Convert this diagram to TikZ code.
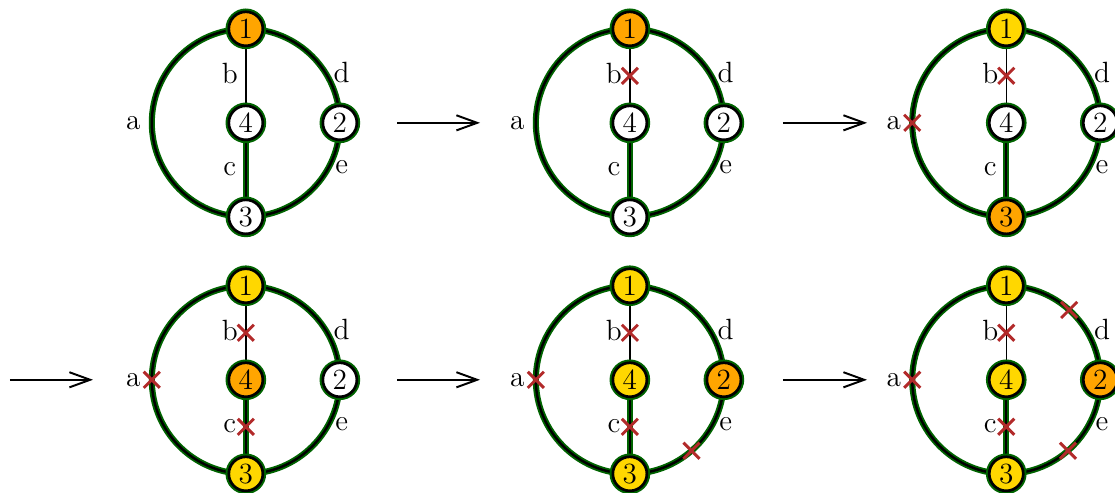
\documentclass[tikz,border=0pt]{standalone}
\usetikzlibrary{arrows.meta,backgrounds,shapes.misc}

\definecolor{verd}{RGB}{0,100,0}
\definecolor{taronja}{RGB}{255,165,0}
\definecolor{groc}{RGB}{255,215,0}
\definecolor{creucol}{RGB}{178,42,42}

\newcommand{\R}{1.354}

% graf: prefix, centre, colors of vertices 1..4
\newcommand{\graf}[6]{%
  \begin{scope}[shift={(#2)}]
    \node[vert, fill=#3] (#1v1) at (90:\R) {1};
    \node[vert, fill=#4] (#1v2) at (0:\R) {2};
    \node[vert, fill=#5] (#1v3) at (270:\R) {3};
    \node[vert, fill=#6] (#1v4) at (0,0) {4};
    % arestes
    \begin{scope}[on background layer]
      \draw[aresta] (#1v1.center) arc[start angle=90, end angle=270, radius=\R];
      \draw[aresta] (#1v1.center) arc[start angle=90, end angle=0, radius=\R];
      \draw[aresta] (#1v2.center) arc[start angle=0, end angle=-90, radius=\R];
      \draw[aresta] (#1v4) -- (#1v3);
      \draw[fina] (#1v1) -- (#1v4);
    \end{scope}
    % etiquetes
    \node[etiq] (#1la) at (-1.62,0) {a};
    \node[etiq] (#1lb) at (-0.23,0.71) {b};
    \node[etiq] (#1lc) at (-0.23,-0.66) {c};
    \node[etiq] (#1ld) at (1.38,0.72) {d};
    \node[etiq] (#1le) at (1.38,-0.64) {e};
    % llocs de les creus
    \coordinate (#1a) at (180:\R);
    \coordinate (#1b) at (0,\R/2);
    \coordinate (#1c) at (0,-\R/2);
    \coordinate (#1d) at (48:\R);
    \coordinate (#1e) at (-49:\R);
  \end{scope}%
}

\begin{document}
\begin{tikzpicture}[
    vert/.style={circle, draw=black, line width=1.1pt, minimum size=0.49cm,
      inner sep=0pt, font=\large, preaction={draw=verd, line width=2.7pt}},
    aresta/.style={draw=black, line width=1pt,
      preaction={draw=verd, line width=2.5pt}},
    fina/.style={draw=black, line width=0.6pt},
    etiq/.style={inner sep=0pt, font=\large},
    creu/.style={cross out, draw=creucol, line width=1.2pt,
      minimum size=0.19cm, inner sep=0pt},
    seta/.style={-{Straight Barb[length=8.5pt, width=6.2pt]}, line width=0.8pt}
]

\useasboundingbox (0,0) rectangle (16.056,7.099);

% Fila de dalt
\graf{A}{3.54,5.33}{taronja}{white}{white}{white}
\graf{B}{9.07,5.33}{taronja}{white}{white}{white}
\graf{C}{14.49,5.33}{groc}{white}{taronja}{white}

% Fila de baix
\graf{D}{3.54,1.63}{groc}{white}{groc}{taronja}
\graf{E}{9.07,1.63}{groc}{taronja}{groc}{groc}
\graf{F}{14.49,1.63}{groc}{taronja}{groc}{groc}

% Creus
\node[creu] at (Bb) {};
\foreach \k in {a,b} {\node[creu] at (C\k) {};}
\foreach \k in {a,b,c} {\node[creu] at (D\k) {};}
\foreach \k in {a,b,c,e} {\node[creu] at (E\k) {};}
\foreach \k in {a,b,c,d,e} {\node[creu] at (F\k) {};}

% Fletxes
\coordinate (s1) at (5.717,5.33);
\coordinate (t1) at (6.912,5.33);
\coordinate (s2) at (11.275,5.33);
\coordinate (t2) at (12.485,5.33);
\coordinate (s3) at (0.144,1.63);
\coordinate (t3) at (1.339,1.63);
\coordinate (s4) at (5.717,1.63);
\coordinate (t4) at (6.912,1.63);
\coordinate (s5) at (11.275,1.63);
\coordinate (t5) at (12.485,1.63);
\foreach \i in {1,...,5} {\draw[seta] (s\i) -- (t\i);}

\end{tikzpicture}
\end{document}
